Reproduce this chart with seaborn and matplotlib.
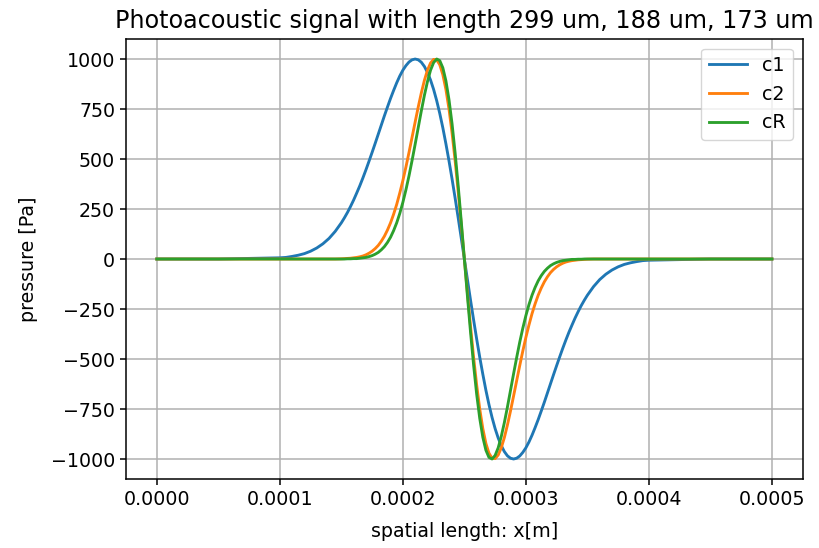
import numpy as np
import pandas as pd
import seaborn as sns
import matplotlib
matplotlib.use("Agg")
import matplotlib.pyplot as plt

# sample positions along x, in micrometres
x_um = [0, 50,
        100, 105, 110, 115, 120, 125, 130, 135, 140, 145,
        150, 152.5, 155, 157.5, 160, 162.5, 165, 167.5, 170, 172.5,
        175, 177.5, 180, 182.5, 185, 187.5, 190, 192.5, 195, 197.5,
        200, 202.5, 205, 207.5, 210, 212.5, 215, 217.5, 220, 222.5,
        225, 227.5, 230, 232.5, 235, 237.5, 240, 242.5, 245, 247.5,
        250, 252.5, 255, 257.5, 260, 262.5, 265, 267.5, 270, 272.5,
        275, 277.5, 280, 282.5, 285, 287.5, 290, 292.5, 295, 297.5,
        300, 302.5, 305, 307.5, 310, 312.5, 315, 317.5, 320, 322.5,
        325, 327.5, 330, 332.5, 335, 337.5, 340, 342.5, 345, 347.5,
        350, 355, 360, 365, 370, 375, 380, 385, 390, 395, 400,
        450, 500]

# pressure [Pa]
p_c1 = [0, 0,
        6, 8, 13, 19, 27, 39, 55, 76, 103, 138,
        181, 206, 233, 263, 295, 330, 366, 405, 446, 489,
        533, 578, 624, 670, 716, 760, 803, 843, 881, 915,
        944, 967, 985, 996, 1000, 996, 984, 963, 933, 895,
        848, 792, 728, 656, 576, 491, 400, 304, 205, 103,
        0, -103, -205, -304, -400, -491, -576, -656, -728, -792,
        -848, -895, -933, -963, -984, -996, -1000, -996, -985, -967,
        -944, -915, -881, -843, -803, -760, -716, -670, -624, -578,
        -533, -489, -446, -405, -366, -330, -295, -263, -233, -206,
        -181, -138, -103, -76, -55, -39, -27, -19, -13, -8, -6,
        0, 0]

p_c2 = [0, 0,
        0, 0, 0, 0, 0, 0, 0, 0, 0, 0,
        1, 2, 3, 4, 6, 8, 11, 15, 21, 29,
        39, 52, 68, 89, 114, 145, 181, 224, 273, 330,
        392, 460, 533, 609, 685, 760, 830, 893, 944, 980,
        998, 996, 971, 922, 848, 750, 630, 491, 336, 171,
        0, -171, -336, -491, -630, -750, -848, -922, -971, -996,
        -998, -980, -944, -893, -830, -760, -685, -609, -533, -460,
        -392, -330, -273, -224, -181, -145, -114, -89, -68, -52,
        -39, -29, -21, -15, -11, -8, -6, -4, -3, -2,
        -1, 0, 0, 0, 0, 0, 0, 0, 0, 0, 0,
        0, 0]

p_cR = [0, 0,
        0, 0, 0, 0, 0, 0, 0, 0, 0, 0,
        0, 0, 1, 1, 2, 2, 4, 6, 8, 12,
        17, 24, 33, 46, 62, 83, 109, 142, 181, 228,
        283, 346, 416, 493, 574, 657, 740, 818, 887, 944,
        982, 1000, 992, 956, 891, 797, 676, 530, 365, 186,
        0, -186, -365, -530, -676, -797, -891, -956, -992, -1000,
        -982, -944, -887, -818, -740, -657, -574, -493, -416, -346,
        -283, -228, -181, -142, -109, -83, -62, -46, -33, -24,
        -17, -12, -8, -6, -4, -2, -2, -1, -1, 0,
        0, 0, 0, 0, 0, 0, 0, 0, 0, 0, 0,
        0, 0]

series_names = ["c1", "c2", "cR"]
title_text = "Photoacoustic signal with length 299 um, 188 um, 173 um"

s = 1.37  # scale from a 6x4 inch notebook figure
plt.rcParams.update({
    "font.family": ["DejaVu Sans"],
    "font.size": 10 * s,
    "axes.titlesize": 17.2,
    "axes.linewidth": 0.8 * s,
    "xtick.major.size": 4.3,
    "ytick.major.size": 4.3,
    "xtick.major.width": 0.8 * s,
    "ytick.major.width": 0.8 * s,
    "grid.linewidth": 0.8 * s,
})

x_m = np.array(x_um) * 1e-6
df = pd.concat([
    pd.DataFrame({"x": x_m, "pressure": vals, "curve": name})
    for name, vals in zip(series_names, [p_c1, p_c2, p_cR])
])

fig = plt.figure(figsize=(8.2, 5.48), dpi=100)
ax = fig.add_axes([0.1537, 0.1259, 0.8252, 0.8029])

sns.lineplot(data=df, x="x", y="pressure", hue="curve",
             palette=sns.color_palette("tab10", 3), linewidth=1.5 * s,
             ax=ax, sort=False, estimator=None)

ax.set_xticks([0, 0.0001, 0.0002, 0.0003, 0.0004, 0.0005])
ax.set_xticklabels(["0.0000", "0.0001", "0.0002", "0.0003", "0.0004", "0.0005"])
ax.set_yticks([-1000, -750, -500, -250, 0, 250, 500, 750, 1000])
ax.set_xlim(-0.000025, 0.000525)
ax.set_ylim(-1100, 1100)
ax.grid(True)
ax.set_axisbelow(True)

ax.set_xlabel("spatial length: x[m]", labelpad=9.5)
ax.set_ylabel("pressure [Pa]", labelpad=9.5)
ax.set_title(title_text, pad=6 * s)

handles, labels = ax.get_legend_handles_labels()
ax.legend(handles, labels, loc="upper right")

fig.savefig("out.png", dpi=100)
